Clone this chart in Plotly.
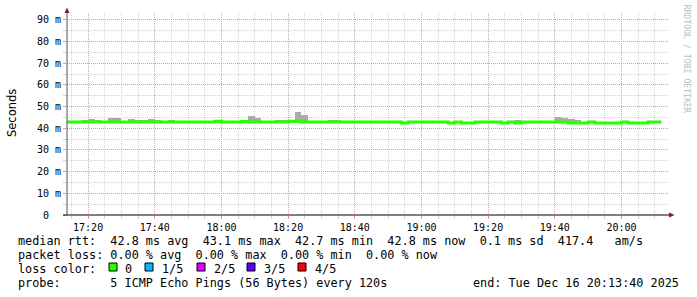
import pandas as pd
import plotly.graph_objects as go

# ---------------- data ----------------
slot_start = pd.date_range("2025-12-16 17:12:00", periods=90, freq="120s")

median_ms = [
    42.9, 42.9, 42.9, 42.9, 42.9, 42.9, 42.9, 42.9, 42.9, 42.9,
    42.9, 42.9, 42.9, 42.9, 42.9, 42.9, 42.9, 42.9, 42.9, 42.9,
    42.9, 42.9, 42.9, 43.3, 42.9, 42.9, 42.9, 43.1, 42.9, 42.9,
    42.9, 42.9, 42.9, 42.9, 43.3, 43.3, 42.9, 42.9, 42.9, 42.9,
    42.9, 42.9, 42.9, 42.9, 42.9, 42.9, 42.9, 42.9, 42.9, 42.9,
    42.9, 42.4, 42.9, 42.9, 42.9, 42.9, 42.9, 42.9, 42.4, 42.9,
    42.4, 42.4, 42.9, 42.9, 42.9, 42.9, 42.4, 42.9, 42.4, 42.9,
    42.9, 42.9, 42.9, 42.9, 42.9, 42.9, 42.4, 42.4, 42.4, 42.9,
    42.4, 42.4, 42.4, 42.4, 42.9, 42.4, 42.4, 42.4, 42.9, 42.9,
]

smoke_max_ms = [
    43.2, 43.2, 43.2, 43.9, 44.3, 43.9, 43.2, 44.9, 44.9, 43.2,
    44.3, 43.9, 43.9, 44.3, 43.9, 43.2, 44.0, 43.2, 43.2, 43.2,
    43.2, 43.2, 43.2, 43.4, 43.2, 43.2, 43.2, 43.9, 45.7, 44.9,
    43.2, 43.2, 43.9, 43.9, 43.9, 47.7, 46.1, 43.2, 43.2, 43.2,
    43.9, 43.9, 43.2, 43.2, 43.2, 43.2, 43.2, 43.2, 43.2, 43.2,
    43.2, 42.8, 43.2, 43.2, 43.2, 43.2, 43.2, 43.2, 42.8, 43.2,
    42.8, 42.8, 43.2, 43.2, 43.2, 43.2, 42.8, 43.2, 43.9, 43.2,
    43.2, 43.2, 43.2, 43.2, 45.2, 44.8, 44.3, 43.9, 42.8, 43.2,
    42.8, 42.8, 42.8, 42.8, 43.2, 42.8, 42.8, 42.8, 43.2, 43.2,
]

smoke_min_ms = [
    42.6, 42.6, 42.6, 42.6, 42.6, 42.6, 42.6, 42.6, 42.6, 42.6,
    42.6, 42.6, 42.6, 42.6, 42.6, 42.6, 42.6, 42.6, 42.6, 42.6,
    42.6, 42.6, 42.6, 42.6, 42.6, 42.6, 42.6, 42.6, 42.6, 42.6,
    42.6, 42.6, 42.6, 42.6, 42.6, 42.6, 42.6, 42.6, 42.6, 42.6,
    42.6, 42.6, 42.6, 42.6, 42.6, 42.6, 42.6, 42.6, 42.6, 42.6,
    42.6, 42.2, 42.6, 42.6, 42.6, 42.6, 42.6, 42.6, 42.2, 42.6,
    42.2, 42.2, 42.6, 42.6, 42.6, 42.6, 42.2, 42.6, 42.2, 42.6,
    42.6, 42.6, 42.6, 42.6, 42.6, 42.6, 42.2, 42.2, 42.2, 42.6,
    42.2, 42.2, 42.2, 42.2, 42.6, 42.2, 42.2, 42.2, 42.6, 42.6,
]

y_tick_vals = [0, 10, 20, 30, 40, 50, 60, 70, 80, 90]
y_tick_text = ["0\u00a0\u00a0", "10 m", "20 m", "30 m", "40 m", "50 m",
               "60 m", "70 m", "80 m", "90 m"]
y_minor_vals = [5, 15, 25, 35, 45, 55, 65, 75, 85]

legend_lines = [
    "median rtt:  42.8 ms avg  43.1 ms max  42.7 ms min  42.8 ms now  0.1 ms sd  417.4   am/s",
    "packet loss: 0.00 % avg  0.00 % max  0.00 % min  0.00 % now",
    "loss color:",
    "probe:       5 ICMP Echo Pings (56 Bytes) every 120s",
]
loss_labels = ["0", "1/5", "2/5", "3/5", "4/5"]
loss_colors = ["#26ff00", "#00b8ff", "#dd00ff", "#5e00ff", "#ff0000"]
end_text = "end: Tue Dec 16 20:13:40 2025"

# ---------------- geometry helpers ----------------
L, R, T, B = 67, 669, 13, 215
W, H = 697, 297


def px(x):
    return (x - L) / (R - L)


def py(y):
    return (B - y) / (B - T)


mono = "DejaVu Sans Mono"
step = pd.Timedelta(seconds=120)
centers = [t + step / 2 for t in slot_start]

fig = go.Figure()

x0 = pd.Timestamp("2025-12-16 17:13:40")
x1 = x0 + pd.Timedelta(seconds=18 * (R - L))
ymax = 93.2

MAJ = "#ff8c8c"
MIN = "#d2d2d2"

x_major_vals = list(pd.date_range("2025-12-16 17:20:00", "2025-12-16 20:00:00", freq="20min"))
x_minor_vals = [t for t in pd.date_range("2025-12-16 17:15:00", "2025-12-16 20:10:00", freq="5min")
                if t.minute % 20 != 0]

# smoke
fig.add_trace(go.Bar(
    x=centers,
    y=[a - b for a, b in zip(smoke_max_ms, smoke_min_ms)],
    base=smoke_min_ms,
    width=120000,
    marker=dict(color="#aaaaaa", line=dict(width=0)),
    hoverinfo="skip",
    showlegend=False,
))

# median line (step)
fig.add_trace(go.Scatter(
    x=list(slot_start) + [slot_start[-1] + step],
    y=median_ms + [median_ms[-1]],
    mode="lines",
    line=dict(color="#26ff00", width=3, shape="hv"),
    hoverinfo="skip",
    showlegend=False,
))

fig.update_layout(
    width=W, height=H, autosize=False,
    margin=dict(l=L, r=W - R, t=T, b=H - B, pad=0),
    paper_bgcolor="white", plot_bgcolor="white",
    bargap=0,
    xaxis=dict(
        type="date", range=[x0, x1],
        tickvals=x_major_vals, tickformat="%H:%M",
        showgrid=True, gridcolor=MAJ, griddash="1px,1px", gridwidth=1,
        ticks="outside", ticklen=3, tickcolor=MAJ,
        tickfont=dict(family=mono, size=10, color="#000000"),
        showline=False, zeroline=False,
        minor=dict(tickvals=x_minor_vals, showgrid=True, gridcolor=MIN,
                   griddash="1px,1px", ticks="outside", ticklen=3,
                   tickcolor=MIN),
    ),
    yaxis=dict(
        range=[0, ymax], tickvals=y_tick_vals, ticktext=y_tick_text,
        showgrid=True, gridcolor=MAJ, griddash="1px,1px", gridwidth=1,
        ticks="outside", ticklen=3, tickcolor=MAJ,
        tickfont=dict(family=mono, size=10, color="#000000"),
        showline=False, zeroline=False,
        minor=dict(tickvals=y_minor_vals, showgrid=True, gridcolor=MIN,
                   griddash="1px,1px", ticks="outside", ticklen=3,
                   tickcolor=MIN),
    ),
)

shapes = []
# axis lines
shapes.append(dict(type="line", xref="paper", yref="paper",
                   x0=px(67), x1=px(67), y0=py(215), y1=py(11),
                   line=dict(color="#555555", width=1)))
shapes.append(dict(type="line", xref="paper", yref="paper",
                   x0=px(63), x1=px(670), y0=py(215), y1=py(215),
                   line=dict(color="#000000", width=1)))
# arrows
shapes.append(dict(type="path", xref="paper", yref="paper",
                   path=f"M {px(64.5)} {py(13)} L {px(69.5)} {py(13)} L {px(67)} {py(7.5)} Z",
                   fillcolor="#8b1a1a", line=dict(width=0)))
shapes.append(dict(type="path", xref="paper", yref="paper",
                   path=f"M {px(669)} {py(212.5)} L {px(669)} {py(217.5)} L {px(674.5)} {py(215)} Z",
                   fillcolor="#8b1a1a", line=dict(width=0)))
# loss colour boxes
box_x = [109, 145, 197, 247, 298]
for bx, col in zip(box_x, loss_colors):
    shapes.append(dict(type="rect", xref="paper", yref="paper",
                       x0=px(bx), x1=px(bx + 8), y0=py(271), y1=py(263),
                       fillcolor=col, line=dict(color="#000000", width=1)))
fig.update_layout(shapes=shapes)

ann = []
line_y = [241.5, 255, 269, 283]
for txt, yy in zip(legend_lines, line_y):
    ann.append(dict(xref="paper", yref="paper", x=px(16), y=py(yy),
                    text=txt.replace(" ", "\u00a0"), showarrow=False,
                    xanchor="left", yanchor="middle",
                    font=dict(family=mono, size=11.8, color="#000000")))
label_x = [123, 160, 211.5, 261.5, 312.5]
for lx, lab in zip(label_x, loss_labels):
    ann.append(dict(xref="paper", yref="paper", x=px(lx), y=py(269),
                    text=lab, showarrow=False, xanchor="left", yanchor="middle",
                    font=dict(family=mono, size=11.8, color="#000000")))
ann.append(dict(xref="paper", yref="paper", x=px(681), y=py(283),
                text=end_text.replace(" ", "\u00a0"), showarrow=False,
                xanchor="right", yanchor="middle",
                font=dict(family=mono, size=11.8, color="#000000")))
ann.append(dict(xref="paper", yref="paper", x=px(12), y=py(113),
                text="Seconds", showarrow=False, textangle=-90,
                xanchor="center", yanchor="middle",
                font=dict(family="DejaVu Sans", size=11.5, color="#000000")))
ann.append(dict(xref="paper", yref="paper", x=px(686.5), y=py(59),
                text="RRDTOOL / TOBI OETIKER", showarrow=False, textangle=90,
                xanchor="center", yanchor="middle",
                font=dict(family=mono, size=8.2, color="#bdbdbd")))
fig.update_layout(annotations=ann)

fig.write_html("out.html")
